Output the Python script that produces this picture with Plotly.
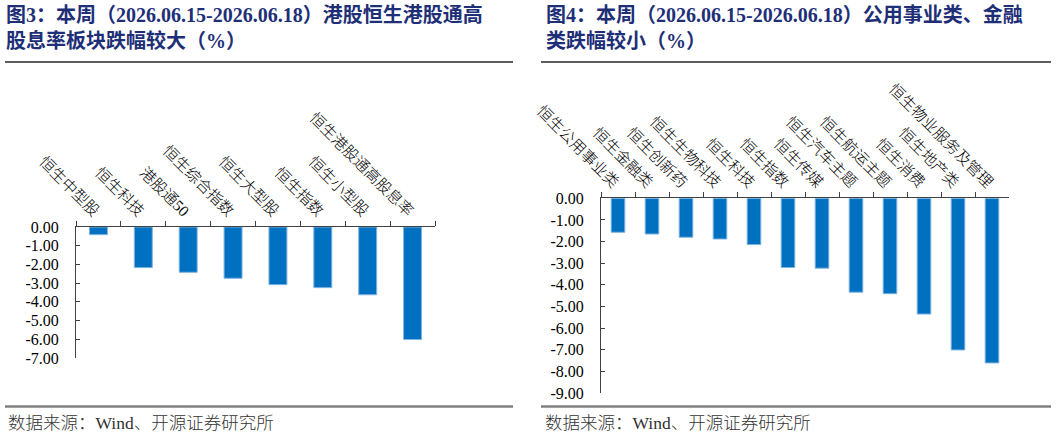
import plotly.graph_objects as go

W, H = 1057, 437

# ---- data ----
left_categories = ["恒生中型股", "恒生科技", "港股通50", "恒生综合指数", "恒生大型股",
                   "恒生指数", "恒生小型股", "恒生港股通高股息率"]
left_values = [-0.41, -2.17, -2.42, -2.74, -3.08, -3.24, -3.62, -6.01]
left_ticks = [0, -1, -2, -3, -4, -5, -6, -7]

right_categories = ["恒生公用事业类", "恒生金融类", "恒生创新药", "恒生生物科技", "恒生科技",
                    "恒生指数", "恒生传媒", "恒生汽车主题", "恒生航运主题", "恒生消费",
                    "恒生地产类", "恒生物业服务及管理"]
right_values = [-1.57, -1.65, -1.80, -1.88, -2.14, -3.20, -3.23, -4.34, -4.41, -5.35, -7.01, -7.61]
right_ticks = [0, -1, -2, -3, -4, -5, -6, -7, -8, -9]

left_title = "<b>图3：本周（2026.06.15-2026.06.18）港股恒生港股通高<br>股息率板块跌幅较大（%）</b>"
right_title = "<b>图4：本周（2026.06.15-2026.06.18）公用事业类、金融<br>类跌幅较小（%）</b>"
source_text = "数据来源：Wind、开源证券研究所"

# ---- style ----
FONT = "Liberation Serif, Noto Sans CJK SC"
BAR = "#0070C0"
BAR_EDGE = "#7FB3E0"
AX = "#404040"
TITLE_C = "#1E2F78"


def px_x(p):
    return p / W


def px_y(p):
    return 1 - p / H


fig = go.Figure()
fig.add_trace(go.Bar(x=left_categories, y=left_values, xaxis="x", yaxis="y",
                     marker=dict(color=BAR, line=dict(color=BAR_EDGE, width=1)),
                     hoverinfo="skip"))
fig.add_trace(go.Bar(x=right_categories, y=right_values, xaxis="x2", yaxis="y2",
                     marker=dict(color=BAR, line=dict(color=BAR_EDGE, width=1)),
                     hoverinfo="skip"))

xcommon = dict(side="top", showline=True, linecolor=AX, linewidth=1, ticks="outside",
               ticklen=5, tickcolor=AX, tickson="boundaries", tickangle=45,
               tickfont=dict(family=FONT, size=15.5, color="#000000", weight=300),
               showgrid=False, zeroline=False, fixedrange=True, automargin=False)
ycommon = dict(showline=True, linecolor=AX, linewidth=1, ticks="inside", ticklen=4,
               tickcolor=AX, showgrid=False, zeroline=False, ticklabelstandoff=13,
               tickfont=dict(family=FONT, size=16, color="#000000"), fixedrange=True,
               automargin=False)

fig.update_layout(
    width=W, height=H, margin=dict(l=0, r=0, t=0, b=0, autoexpand=False),
    paper_bgcolor="white", plot_bgcolor="white", showlegend=False,
    bargap=0.6,
    xaxis=dict(domain=[px_x(76), px_x(435)], anchor="y", **xcommon),
    yaxis=dict(domain=[px_y(358), px_y(227)], anchor="x", range=[min(left_ticks), 0],
               tickvals=left_ticks, ticktext=[f"{v:.2f}" for v in left_ticks], **ycommon),
    xaxis2=dict(domain=[px_x(601), px_x(1009)], anchor="y2", **xcommon),
    yaxis2=dict(domain=[px_y(393), px_y(198.3)], anchor="x2", range=[min(right_ticks), 0],
                tickvals=right_ticks, ticktext=[f"{v:.2f}" for v in right_ticks], **ycommon),
)

annotations = []
for txt, x0 in ((left_title, 4), (right_title, 544)):
    annotations.append(dict(text=txt, x=px_x(x0), y=px_y(1), xref="paper", yref="paper",
                            xanchor="left", yanchor="top", align="left", showarrow=False,
                            font=dict(family=FONT, size=20, color=TITLE_C)))
for x0 in (6, 543):
    annotations.append(dict(text=source_text, x=px_x(x0), y=px_y(423), xref="paper",
                            yref="paper", xanchor="left", yanchor="middle", showarrow=False,
                            font=dict(family=FONT, size=17.5, color="#333333", weight=300)))
fig.update_layout(annotations=annotations)

shapes = []
for x0, x1 in ((5, 513), (541, 1051)):
    shapes.append(dict(type="line", xref="paper", yref="paper", x0=px_x(x0), x1=px_x(x1),
                       y0=px_y(62), y1=px_y(62), line=dict(color="#262626", width=1.5)))
    shapes.append(dict(type="line", xref="paper", yref="paper", x0=px_x(x0), x1=px_x(x1),
                       y0=px_y(406.5), y1=px_y(406.5), line=dict(color="#808080", width=2.5)))
fig.update_layout(shapes=shapes)

fig.write_html("out.html", config={"displayModeBar": False})
